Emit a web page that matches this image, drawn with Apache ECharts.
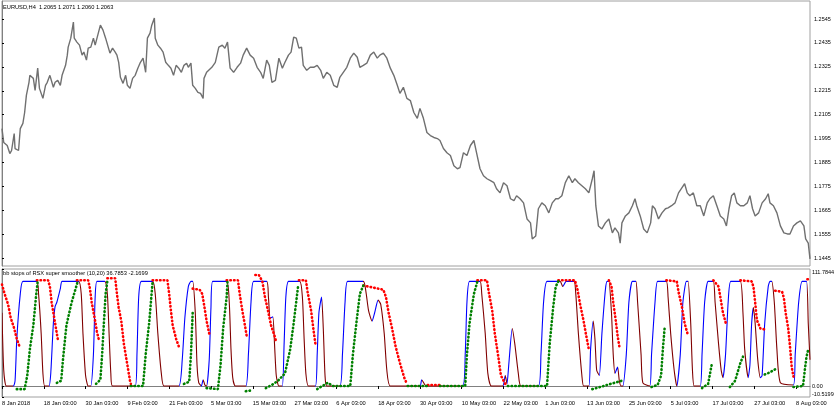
<!DOCTYPE html>
<html><head><meta charset="utf-8">
<script src="https://cdn.jsdelivr.net/npm/echarts@6/dist/echarts.min.js"></script>
<style>html,body{margin:0;padding:0;background:#fff}#c{width:835px;height:407px}</style>
</head><body><div id="c"></div>
<script>
const dateLabels = ['8 Jan 2018','18 Jan 03:00','30 Jan 03:00','9 Feb 03:00','21 Feb 03:00','5 Mar 03:00','15 Mar 03:00','27 Mar 03:00','6 Apr 03:00','18 Apr 03:00','30 Apr 03:00','10 May 03:00','22 May 03:00','1 Jun 03:00','13 Jun 03:00','25 Jun 03:00','5 Jul 03:00','17 Jul 03:00','27 Jul 03:00','8 Aug 03:00'];
const priceTicks = [1.2545,1.2435,1.2325,1.2215,1.2105,1.1995,1.1885,1.1775,1.1665,1.1555,1.1445];
const lastPrice = 1.2063;
const indTicks = [111.7844, 0, -10.5199];

const priceBar = [0,2,6,9,11,14,15,19,21,24,26,28,31,32,36,38,41,43,47,50,52,55,59,61,64,67,69,73,75,76,79,82,83,86,89,92,94,97,99,102,105,107,110,113,116,119,121,124,127,130,132,134,136,139,142,144,147,150,153,156,159,162,165,167,170,172,175,176,179,182,185,188,191,194,197,200,203,206,209,212,214,217,219,222,225,228,231,232,235,241,245,249,253,256,259,262,266,270,274,277,281,285,289,293,297,300,304,307,310,314,318,322,325,329,332,335,338,341,344,346,350,354,358,362,366,369,373,377,381,385,388,392,396,400,404,408,411,415,419,423,427,431,434,438,442,446,450,454,457,461,465,469,473,477,480,484,488,492,496,500,503,507,511,515,519,523,526,530,534,538,542,545,549,553,557,561,565,568,572,576,580,584,588,591,595,599,603,607,609,613,616,620,624,628,632,636,639,643,647,651,655,658,662,666,670,674,678,680,682,685,689,693,697,701,704,708,710,712,716,720,724,727,729,733,737,741,745,747,750,754,758,762,765,769,773,777,781,784,787,790,794,798,802,806,810,813,817,821,825,829,832,835,838,841,844,848,852,856,859,862,865,869,873,877,880,882,886,890,894,898,902,905,909,913,917,921,923,926,928];
const priceClose = [1.2041,1.1977,1.1963,1.1926,1.1940,1.2018,1.1949,1.1940,1.2041,1.2065,1.2115,1.2194,1.2254,1.2286,1.2272,1.2217,1.2319,1.2226,1.2180,1.2240,1.2254,1.2286,1.2231,1.2254,1.2263,1.2240,1.2286,1.2332,1.2379,1.2416,1.2457,1.2531,1.2457,1.2439,1.2425,1.2379,1.2393,1.2356,1.2411,1.2416,1.2457,1.2425,1.2471,1.2517,1.2494,1.2457,1.2462,1.2388,1.2411,1.2393,1.2379,1.2346,1.2277,1.2249,1.2286,1.2240,1.2226,1.2272,1.2286,1.2319,1.2346,1.2365,1.2300,1.2457,1.2480,1.2517,1.2550,1.2457,1.2425,1.2411,1.2393,1.2346,1.2332,1.2319,1.2286,1.2332,1.2319,1.2300,1.2332,1.2342,1.2323,1.2342,1.2240,1.2226,1.2208,1.2203,1.2180,1.2272,1.2300,1.2323,1.2346,1.2416,1.2425,1.2411,1.2439,1.2319,1.2300,1.2323,1.2342,1.2379,1.2411,1.2379,1.2365,1.2323,1.2300,1.2272,1.2356,1.2332,1.2254,1.2263,1.2365,1.2319,1.2346,1.2379,1.2393,1.2462,1.2457,1.2411,1.2416,1.2332,1.2309,1.2323,1.2323,1.2332,1.2309,1.2272,1.2300,1.2286,1.2240,1.2231,1.2277,1.2300,1.2323,1.2365,1.2388,1.2369,1.2323,1.2332,1.2342,1.2379,1.2393,1.2365,1.2379,1.2388,1.2365,1.2319,1.2286,1.2240,1.2203,1.2231,1.2180,1.2170,1.2115,1.2088,1.2134,1.2088,1.2023,1.2009,1.2000,1.1995,1.1986,1.1949,1.1930,1.1917,1.1870,1.1856,1.1861,1.1930,1.1917,1.1963,1.1986,1.1930,1.1856,1.1824,1.1810,1.1801,1.1792,1.1764,1.1745,1.1792,1.1778,1.1718,1.1709,1.1732,1.1718,1.1699,1.1625,1.1607,1.1533,1.1547,1.1672,1.1699,1.1686,1.1653,1.1699,1.1718,1.1718,1.1732,1.1792,1.1824,1.1792,1.1810,1.1792,1.1778,1.1764,1.1745,1.1810,1.1847,1.1686,1.1593,1.1579,1.1607,1.1625,1.1561,1.1584,1.1561,1.1514,1.1607,1.1639,1.1653,1.1686,1.1718,1.1686,1.1639,1.1579,1.1561,1.1607,1.1686,1.1672,1.1625,1.1653,1.1672,1.1676,1.1686,1.1699,1.1745,1.1769,1.1787,1.1745,1.1732,1.1745,1.1686,1.1686,1.1639,1.1699,1.1718,1.1732,1.1686,1.1639,1.1625,1.1593,1.1672,1.1732,1.1745,1.1699,1.1686,1.1686,1.1699,1.1732,1.1672,1.1639,1.1653,1.1699,1.1718,1.1741,1.1699,1.1686,1.1653,1.1593,1.1561,1.1556,1.1556,1.1593,1.1607,1.1616,1.1593,1.1533,1.1514,1.1441];

// RSX super smoother line (bar index, value)
const rsxBar = [0,2,5,13,15,17,21,24,40,42,45,47,49,54,56,59,61,63,67,69,88,91,93,96,99,102,105,107,109,118,121,123,125,127,153,155,157,160,173,176,179,183,186,203,207,210,214,217,219,222,224,226,229,231,233,235,238,240,242,258,261,263,265,268,280,283,286,289,304,306,308,311,313,315,318,322,324,326,329,342,345,347,349,352,360,362,364,367,369,371,373,388,391,394,397,415,418,421,425,428,432,435,439,442,446,480,482,485,487,529,532,534,537,549,551,555,558,562,575,578,580,582,586,589,593,596,616,619,622,626,641,644,648,657,659,662,666,668,674,676,679,681,683,686,689,693,695,697,700,702,704,707,709,711,713,717,720,724,728,730,734,736,744,746,750,753,763,765,768,772,775,779,782,786,788,791,793,795,802,804,807,811,817,819,823,826,828,831,834,837,848,851,853,857,859,861,863,865,868,871,873,876,880,882,884,887,890,894,909,911,915,919,924,926,928];
const rsxVal = [70,15,0,0,5,45,88,100,100,88,50,12,0,0,12,60,76,80,93,100,100,88,50,10,0,0,30,85,100,100,88,50,12,0,0,30,85,100,100,88,50,12,0,0,25,65,95,100,100,70,20,3,0,6,1,0,25,75,100,100,80,35,8,0,0,30,80,100,100,85,65,66,40,10,0,0,40,85,100,100,85,45,12,0,0,30,70,85,55,10,0,0,30,80,100,100,90,72,62,70,82,78,50,15,0,0,6,2,0,0,30,80,100,100,88,50,12,0,0,10,2,20,55,40,12,0,0,30,80,100,100,95,100,100,88,50,10,0,0,35,62,45,15,10,50,92,100,100,70,30,12,18,5,0,0,30,80,100,100,80,30,3,0,30,80,100,100,85,50,15,0,30,80,100,100,60,15,0,0,30,80,100,100,80,40,15,8,30,80,100,100,70,35,8,20,60,75,60,25,8,10,60,95,100,100,80,35,3,1,30,80,100,100,60,25];

// BB stops: red = down-trend stops, green = up-trend stops (null separates runs)
const redBar = [0,3,7,10,14,17,20,null,40,53,55,57,60,62,64,null,86,99,101,103,107,109,111,null,121,130,132,134,137,140,144,147,148,null,173,190,192,194,196,200,203,null,219,227,230,232,235,238,null,258,271,273,276,279,281,null,291,295,299,302,306,309,313,315,null,341,349,351,355,358,360,null,415,438,441,444,448,452,457,462,465,null,489,503,null,546,557,559,563,566,570,573,578,581,null,639,658,661,664,668,671,674,null,697,700,702,705,707,709,null,763,775,777,781,784,788,null,817,823,825,828,832,null,848,861,863,865,867,871,876,null,888,896,898,900,903,905,907,909,null,925,927];
const redVal = [97,88,78,65,55,45,38,null,101,101,95,80,65,55,45,null,101,101,93,80,62,52,45,null,103,103,88,75,62,40,20,5,2,null,101,101,88,72,58,45,38,null,93,92,88,78,62,50,null,101,101,88,72,58,48,null,106,106,100,85,70,58,48,42,null,101,101,90,72,52,40,null,96,92,85,70,55,38,22,8,2,null,1,1,null,101,101,90,72,50,28,10,2,1,null,101,101,92,78,62,48,35,null,101,95,80,62,48,38,null,101,100,90,75,60,48,null,101,95,85,70,58,null,101,100,95,80,63,55,54,null,91,90,84,70,55,38,18,9,null,102,102];
const greenBar = [17,26,29,32,36,39,41,null,63,68,70,74,80,87,null,108,113,115,117,119,121,null,148,162,165,169,172,173,null,209,215,217,219,null,235,248,251,254,258,259,null,280,288,null,303,310,317,325,331,335,340,null,362,368,374,380,400,403,407,411,415,null,466,488,null,503,532,534,537,542,546,null,581,626,629,633,636,639,null,678,687,699,712,null,746,753,757,759,761,null,804,811,815,null,836,842,848,851,null,876,882,890,null,909,920,922,924,926];
const greenVal = [-3,-3,10,35,58,85,100,null,3,5,25,58,80,100,null,2,6,30,60,88,100,null,0,0,30,60,90,100,null,2,4,30,70,null,-2,-3,20,55,85,100,null,-5,-4,null,-2,1,5,12,35,60,95,null,-3,0,3,0,0,30,60,88,96,null,0,0,null,0,0,30,60,88,100,null,0,0,40,75,95,100,null,-3,-1,2,5,null,-1,1,10,35,55,null,-2,2,20,null,-1,5,22,28,null,11,13,17,null,-1,0,15,28,35];

const FONT = "'Liberation Sans', Arial, sans-serif";
const pricePts = priceBar.map((b, i) => [b, priceClose[i]]);
const rsxPts = rsxBar.map((b, i) => [b, rsxVal[i]]);
const toPts = (bars, vals) => bars.map((b, i) => b === null ? '-' : [b, vals[i]]);
const redPts = toPts(redBar, redVal);
const greenPts = toPts(greenBar, greenVal);

// colour pieces: rising = blue, falling = maroon, flat keeps previous colour
const pieces = [];
let dir = -1, start = rsxBar[0];
for (let i = 0; i < rsxBar.length - 1; i++) {
  const d = rsxVal[i + 1] - rsxVal[i];
  const nd = d > 0 ? 1 : (d < 0 ? -1 : dir);
  if (nd !== dir && i > 0) {
    pieces.push({gte: start, lt: rsxBar[i], color: dir > 0 ? '#0000ff' : '#800000'});
    start = rsxBar[i];
  }
  dir = nd;
}
pieces.push({gte: start, lte: 1000, color: dir > 0 ? '#0000ff' : '#800000'});

const chart = echarts.init(document.getElementById('c'), null, {renderer: 'canvas'});
const txt = {fontFamily: FONT, fontSize: 5.7, color: '#000'};
const axTxt = {fontFamily: FONT, fontSize: 5.5, color: '#000', overflow: 'none'};
chart.setOption({
  animation: false,
  backgroundColor: '#fff',
  textStyle: {fontFamily: FONT},
  title: [
    {text: 'EURUSD,H4  1.2065 1.2071 1.2060 1.2063', left: 3, top: 4, padding: 0, textStyle: Object.assign({fontWeight: 'normal'}, txt)},
    {text: 'bb stops of RSX super smoother (10,20) 36.7853 -2.1699', left: 3, top: 270, padding: 0, textStyle: Object.assign({fontWeight: 'normal'}, txt)}
  ],
  grid: [
    {left: 2, top: 1, width: 808, height: 265, show: true, borderColor: '#a0a0a0', borderWidth: 1, outerBoundsMode: 'none', containLabel: false},
    {left: 2, top: 269, width: 808, height: 128, show: true, borderColor: '#a0a0a0', borderWidth: 1, outerBoundsMode: 'none', containLabel: false}
  ],
  visualMap: {type: 'piecewise', show: false, seriesIndex: 1, dimension: 0, pieces: pieces},
  xAxis: [
    {type: 'value', gridIndex: 0, min: 0, max: 928, show: false},
    {type: 'value', gridIndex: 1, min: 0, max: 928, interval: 48,
     axisLine: {show: true, lineStyle: {color: '#808080'}},
     axisTick: {show: true, length: 3, lineStyle: {color: '#000'}},
     axisLabel: Object.assign({align: 'left', margin: 3, showMaxLabel: false, hideOverlap: false, overflow: 'none',
       formatter: v => (v % 48 === 0 && dateLabels[v / 48]) ? dateLabels[v / 48] : ''}, txt),
     splitLine: {show: false}}
  ],
  yAxis: [
    {type: 'value', gridIndex: 0, position: 'right', min: 1.14085, max: 1.26281,
     axisLine: {show: true, lineStyle: {color: '#808080'}},
     axisTick: {show: true, length: 2, customValues: priceTicks, lineStyle: {color: '#000'}},
     axisLabel: Object.assign({margin: 4, customValues: priceTicks, formatter: v => v.toFixed(4)}, axTxt),
     splitLine: {show: false}},
    {type: 'value', gridIndex: 1, position: 'right', min: -10.5199, max: 111.7844,
     axisLine: {show: true, lineStyle: {color: '#808080'}},
     axisTick: {show: true, length: 2, customValues: indTicks, lineStyle: {color: '#000'}},
     axisLabel: Object.assign({margin: 2, customValues: indTicks,
       formatter: v => v > 100 ? '{t|' + v.toFixed(4) + '}' : (v < 0 ? '{b|' + v.toFixed(4) + '}' : '0.00'),
       rich: {t: {padding: [7, 0, 0, 0], fontSize: 5.5, fontFamily: FONT}, b: {padding: [0, 0, 5, 0], fontSize: 5.5, fontFamily: FONT}}}, axTxt),
     splitLine: {show: false}}
  ],
  series: [
    {type: 'line', xAxisIndex: 0, yAxisIndex: 0, data: pricePts, showSymbol: false,
     lineStyle: {color: '#707070', width: 1.4},
     markLine: {silent: true, symbol: 'none', lineStyle: {opacity: 0},
       label: {show: true, position: 'end', distance: 2, formatter: lastPrice.toFixed(4), backgroundColor: '#000', color: '#fff', fontSize: 5.5, fontFamily: FONT, padding: [1, 2, 1, 2]},
       data: [{yAxis: lastPrice}]}},
    {type: 'line', xAxisIndex: 1, yAxisIndex: 1, data: rsxPts, showSymbol: false, smooth: 0.2,
     lineStyle: {width: 1.1}},
    {type: 'line', xAxisIndex: 1, yAxisIndex: 1, data: redPts, showSymbol: false, connectNulls: false,
     lineStyle: {color: '#ff0000', width: 2.6, type: [0.5, 3.2], cap: 'round'}},
    {type: 'line', xAxisIndex: 1, yAxisIndex: 1, data: greenPts, showSymbol: false, connectNulls: false,
     lineStyle: {color: '#008000', width: 2.6, type: [0.5, 3.2], cap: 'round'}}
  ]
});
</script></body></html>
